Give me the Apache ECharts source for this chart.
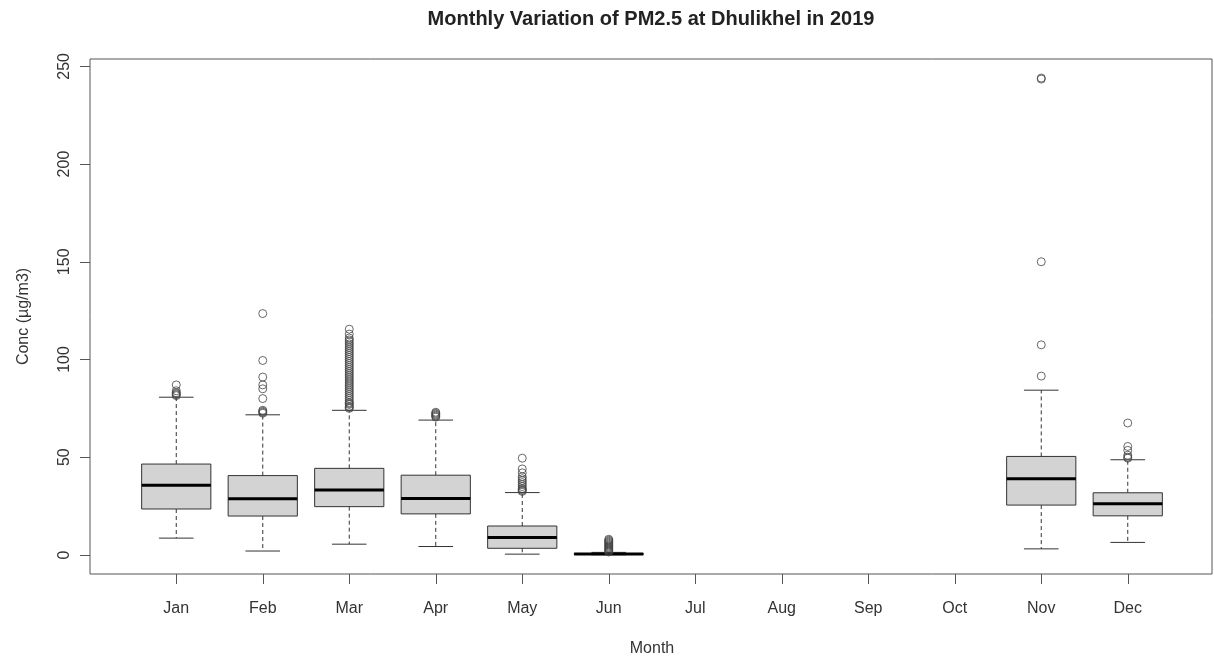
<!DOCTYPE html>
<html>
<head>
<meta charset="utf-8">
<script src="https://cdn.jsdelivr.net/npm/echarts@6/dist/echarts.min.js"></script>
<style>
html,body{margin:0;padding:0;background:#fff;}
#chart{width:1214px;height:657px;}
</style>
</head>
<body>
<div id="chart"></div>
<script>
// ---- data ----
const months = ['Jan','Feb','Mar','Apr','May','Jun','Jul','Aug','Sep','Oct','Nov','Dec'];
const whiskerLow  = [8.6, 2.0, 5.5, 4.3, 0.4, 0.1, null, null, null, null, 3.1, 6.4];
const q1          = [23.5, 19.9, 24.7, 21.0, 3.4, 0.3, null, null, null, null, 25.5, 20.0];
const median      = [35.6, 28.8, 33.2, 28.9, 8.9, 0.45, null, null, null, null, 39.0, 26.2];
const q3          = [46.5, 40.6, 44.3, 40.8, 14.8, 0.7, null, null, null, null, 50.4, 31.8];
const whiskerHigh = [80.7, 71.7, 74.0, 69.0, 31.9, 1.3, null, null, null, null, 84.3, 48.7];

const outJan = [81.5, 82, 82.5, 83, 84, 87];
const outFeb = [72.5, 73, 73.5, 74, 80, 85, 87, 91, 99.5, 123.5];
const outMar = [75, 75.5, 76, 77, 77.5, 78, 79, 80, 81, 82, 83, 84, 85, 86, 87, 88, 89, 90, 91, 92, 93, 94, 95, 96, 97, 98, 99, 100, 101, 102, 103, 104, 105, 106, 107, 108, 109, 110, 111, 113, 115.5];
const outApr = [70.5, 71, 71.5, 72, 72.5, 73];
const outMay = [32.5, 33, 33.5, 34, 35, 36, 37, 38, 39, 40, 42, 44, 49.5];
const outJun = [1.5, 2, 2.5, 3, 3.5, 4, 4.5, 5, 5.5, 6, 6.5, 7, 7.5, 8];
const outNov = [91.5, 107.5, 150, 243.5, 244];
const outDec = [49.5, 50, 51, 53.5, 55.5, 67.5];
const outliersByMonth = [outJan, outFeb, outMar, outApr, outMay, outJun, [], [], [], [], outNov, outDec];

const yTicks = [0, 50, 100, 150, 200, 250];
const yMin = -9.76, yMax = 253.76;

// ---- build series data ----
const boxData = [];
months.forEach((m, i) => {
  if (q1[i] != null) boxData.push([i, whiskerLow[i], q1[i], median[i], q3[i], whiskerHigh[i]]);
});
const outlierData = [];
outliersByMonth.forEach((arr, i) => arr.forEach(v => outlierData.push([i, v])));

const FONT = "'Liberation Sans', Arial, sans-serif";
const TXT = '#333';

function renderBox(params, api) {
  const i = api.value(0);
  const band = api.size([1, 0])[0];
  const bw = band * 0.8, cw = band * 0.4;
  const pt = v => api.coord([i, v]);
  const x = pt(api.value(3))[0];
  const yLow = pt(api.value(1))[1];
  const yQ1 = pt(api.value(2))[1];
  const yMed = pt(api.value(3))[1];
  const yQ3 = pt(api.value(4))[1];
  const yHigh = pt(api.value(5))[1];
  const dash = { stroke: '#333', lineWidth: 1, lineDash: [4, 3] };
  const solid = { stroke: '#333', lineWidth: 1 };
  return {
    type: 'group',
    children: [
      { type: 'line', shape: { x1: x, y1: yQ3, x2: x, y2: yHigh }, style: dash },
      { type: 'line', shape: { x1: x, y1: yQ1, x2: x, y2: yLow }, style: dash },
      { type: 'line', shape: { x1: x - cw / 2, y1: yHigh, x2: x + cw / 2, y2: yHigh }, style: solid },
      { type: 'line', shape: { x1: x - cw / 2, y1: yLow, x2: x + cw / 2, y2: yLow }, style: solid },
      { type: 'rect', shape: { x: x - bw / 2, y: yQ3, width: bw, height: Math.max(yQ1 - yQ3, 0.5) },
        style: { fill: '#d3d3d3', stroke: '#333', lineWidth: 1 } },
      { type: 'line', shape: { x1: x - bw / 2, y1: yMed, x2: x + bw / 2, y2: yMed },
        style: { stroke: '#000', lineWidth: 3 } }
    ]
  };
}

const chart = echarts.init(document.getElementById('chart'), null, { renderer: 'canvas' });
chart.setOption({
  animation: false,
  backgroundColor: '#fff',
  title: {
    text: 'Monthly Variation of PM2.5 at Dhulikhel in 2019',
    left: 646, top: 4, textAlign: 'center',
    textStyle: { fontFamily: FONT, fontSize: 20, fontWeight: 'bold', color: '#222' }
  },
  grid: [
    { left: 90, top: 59, width: 1122, height: 515, show: true, borderColor: '#555', borderWidth: 1,
      backgroundColor: 'transparent', containLabel: false, outerBoundsMode: 'none' },
    { left: 133, top: 59, width: 1038, height: 515, containLabel: false, outerBoundsMode: 'none' }
  ],
  xAxis: [
    { gridIndex: 0, type: 'value', min: 0, max: 1, show: false },
    {
      gridIndex: 1, type: 'category', data: months, boundaryGap: true,
      axisLine: { show: false, onZero: false },
      axisTick: { show: true, alignWithLabel: true, length: 10, lineStyle: { color: '#555', width: 1 } },
      axisLabel: { interval: 0, margin: 27, fontFamily: FONT, fontSize: 16, color: TXT },
      splitLine: { show: false },
      name: 'Month', nameLocation: 'middle', nameGap: 67,
      nameTextStyle: { fontFamily: FONT, fontSize: 16, color: TXT }
    }
  ],
  yAxis: [
    {
      gridIndex: 0, type: 'value', min: yMin, max: yMax,
      axisLine: { show: false },
      axisTick: { show: true, length: 10, customValues: yTicks, lineStyle: { color: '#555', width: 1 } },
      axisLabel: { customValues: yTicks, rotate: 90, margin: 17, fontFamily: FONT, fontSize: 16, color: TXT },
      splitLine: { show: false },
      name: 'Conc (µg/m3)', nameLocation: 'middle', nameGap: 58, nameRotate: 90,
      nameTextStyle: { fontFamily: FONT, fontSize: 16, color: TXT }
    },
    { gridIndex: 1, type: 'value', min: yMin, max: yMax, show: false, splitLine: { show: false } }
  ],
  series: [
    {
      type: 'custom', xAxisIndex: 1, yAxisIndex: 1,
      renderItem: renderBox,
      encode: { x: 0, y: [1, 2, 3, 4, 5] },
      data: boxData, z: 2
    },
    {
      type: 'scatter', xAxisIndex: 1, yAxisIndex: 1,
      symbol: 'circle', symbolSize: 8,
      itemStyle: { color: 'rgba(0,0,0,0)', borderColor: '#444', borderWidth: 1 },
      data: outlierData, z: 3
    }
  ]
});
</script>
</body>
</html>
